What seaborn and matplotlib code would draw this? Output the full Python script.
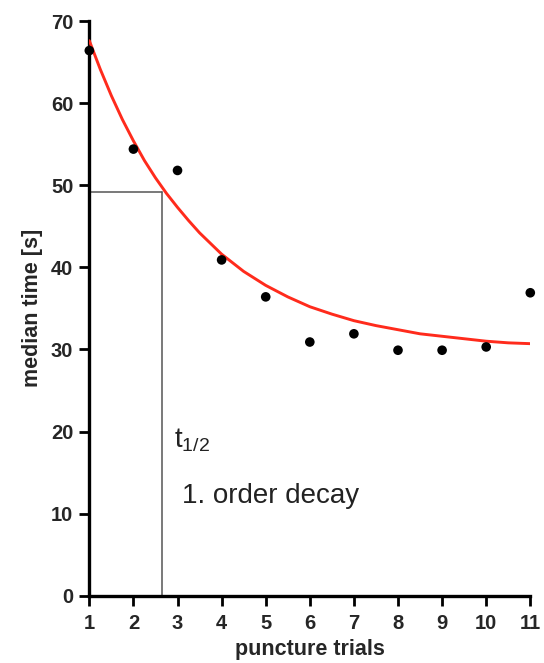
import numpy as np
import pandas as pd
import seaborn as sns
import matplotlib.pyplot as plt

# median puncture time per trial
trials = [1, 2, 3, 4, 5, 6, 7, 8, 9, 10, 11]
median_time = [66.4, 54.4, 51.8, 40.9, 36.4, 30.9, 31.9, 29.9, 29.9, 30.3, 36.9]

# red 1st order decay fit, sampled from the figure
fit_x = [1, 1.25, 1.5, 1.75, 2, 2.25, 2.5, 2.75, 3, 3.25, 3.5, 3.75, 4,
         4.5, 5, 5.5, 6, 6.5, 7, 7.5, 8, 8.5, 9, 9.5, 10, 10.5, 11]
fit_y = [67.6, 64.1, 60.9, 58.0, 55.4, 53.0, 50.9, 49.0, 47.3, 45.7, 44.2, 42.9, 41.6,
         39.5, 37.8, 36.4, 35.2, 34.3, 33.5, 32.9, 32.4, 31.9, 31.6, 31.3, 31.0, 30.8, 30.7]

# half-life marker
t_half = 2.64
y_half = 49.2

df = pd.DataFrame({'trial': trials, 'time': median_time})
fit = pd.DataFrame({'trial': fit_x, 'time': fit_y})

sns.set_style('ticks')
plt.rcParams['font.family'] = ['Liberation Sans', 'DejaVu Sans']
plt.rcParams['mathtext.fontset'] = 'custom'
plt.rcParams['mathtext.rm'] = 'Liberation Sans'

fig = plt.figure(figsize=(5.44, 6.63), dpi=100)
ax = fig.add_axes([0.1642, 0.1015, 0.8106, 0.8668])

sns.lineplot(data=fit, x='trial', y='time', ax=ax, color='#ff2b1c', linewidth=2.1, zorder=3)
sns.scatterplot(data=df, x='trial', y='time', ax=ax, color='black', s=48,
                edgecolor='none', zorder=4, clip_on=False)

# t1/2 guide lines
ax.plot([1, t_half], [y_half, y_half], color='#555555', linewidth=1.1, zorder=2)
ax.plot([t_half, t_half], [0, y_half], color='#555555', linewidth=1.1, zorder=2)

ax.text(2.92, 18.1, r'$\mathregular{t_{1/2}}$', fontsize=20, color='#222222')
ax.text(3.10, 11.3, '1. order decay', fontsize=20, color='#222222')

ax.set_xlim(1, 11)
ax.set_ylim(0, 70)
ax.set_xticks(trials)
ax.set_yticks(range(0, 71, 10))

sns.despine(ax=ax)
for side in ['left', 'bottom']:
    ax.spines[side].set_linewidth(2.4)
    ax.spines[side].set_color('black')

ax.tick_params(axis='both', length=7.5, width=2.0, color='black', labelsize=14.5)
ax.tick_params(axis='x', pad=6)
ax.tick_params(axis='y', pad=4)
for lab in ax.get_xticklabels() + ax.get_yticklabels():
    lab.set_fontweight('bold')

ax.set_xlabel('puncture trials', fontsize=15.5, fontweight='bold', labelpad=4)
ax.set_ylabel('median time [s]', fontsize=15.5, fontweight='bold', labelpad=6)

fig.savefig('out.png', dpi=100)
